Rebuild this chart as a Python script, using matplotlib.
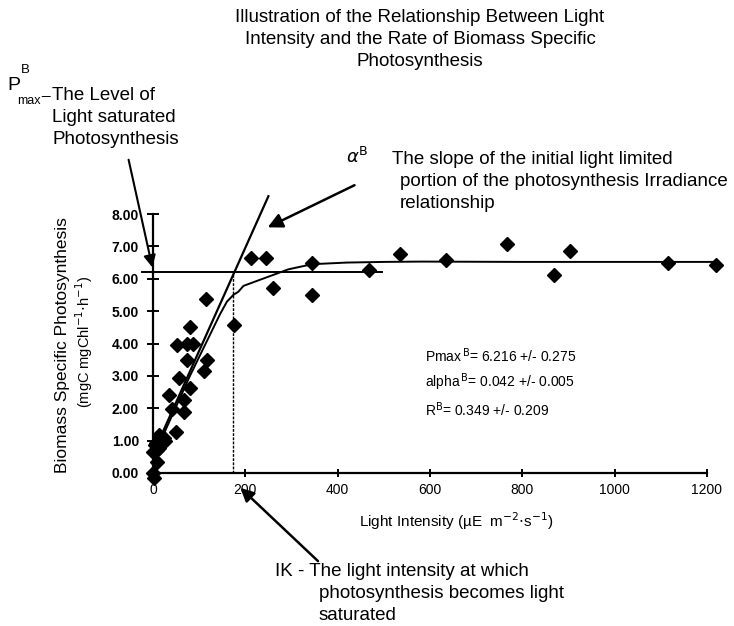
import matplotlib
matplotlib.use("Agg")
import matplotlib.pyplot as plt

plt.rcParams['font.family'] = ['Liberation Sans', 'DejaVu Sans']

# ---- data ----
light = [1, 3, 1, 9, 6, 14, 24, 27, 19, 14, 9, 4,
         50, 41, 68, 68, 35, 80, 56, 110, 74, 116, 51, 74, 86, 80, 115, 176,
         212, 244, 259, 344, 344, 468, 535, 634, 767, 869, 903, 1116, 1219]
biomass = [0.0, -0.15, 0.66, 0.35, 0.92, 1.17, 1.07, 0.99, 0.92, 0.76, 0.72, 0.85,
           1.26, 1.98, 1.89, 2.25, 2.41, 2.62, 2.92, 3.15, 3.49, 3.49, 3.94, 4.0, 3.98, 4.52, 5.38, 4.58,
           6.65, 6.65, 5.70, 6.50, 5.50, 6.27, 6.76, 6.59, 7.07, 6.11, 6.86, 6.50, 6.44]

curve_x = [5, 20, 80, 145, 160, 174, 185, 196, 293, 345, 420, 500, 580, 800, 1000, 1219]
curve_y = [0.6, 1.1, 3.0, 4.9, 5.29, 5.5, 5.6, 5.78, 6.29, 6.45, 6.5, 6.52, 6.53, 6.52, 6.52, 6.52]

slope_x = [5, 250]
slope_y = [0.75, 8.55]

pmax = 6.216
pmax_x = [-24, 497]
ik = 173

xticks = [0, 200, 400, 600, 800, 1000, 1200]
yticks = [0, 1, 2, 3, 4, 5, 6, 7, 8]
ytick_labels = ["0.00", "1.00", "2.00", "3.00", "4.00", "5.00", "6.00", "7.00", "8.00"]

title_lines = ["Illustration of the Relationship Between Light",
               "Intensity and the Rate of Biomass Specific",
               "Photosynthesis"]
pmax_lines = ["The Level of", "Light saturated", "Photosynthesis"]
alpha_lines = ["The slope of the initial light limited",
               "portion of the photosynthesis Irradiance",
               "relationship"]
ik_lines = ["IK - The light intensity at which",
            "photosynthesis becomes light",
            "saturated"]

W, H = 734, 626
fig = plt.figure(figsize=(W / 100, H / 100), dpi=100)
ax = fig.add_axes([153 / W, 1 - 473 / H, (707 - 153) / W, (473 - 214) / H])
ax.set_xlim(0, 1200)
ax.set_ylim(0, 8)

for s in ['top', 'right']:
    ax.spines[s].set_visible(False)
for s in ['left', 'bottom']:
    ax.spines[s].set_linewidth(1.6)

ax.set_xticks(xticks)
ax.set_xticklabels([str(v) for v in xticks], fontsize=10)
ax.set_yticks(yticks)
ax.set_yticklabels(ytick_labels, fontsize=10, fontweight='bold')
ax.tick_params(axis='y', direction='inout', length=8, width=1.4, pad=6)
ax.tick_params(axis='x', direction='inout', length=6, width=1.4, pad=4)

ax.plot(light, biomass, linestyle='none', marker='D', markersize=7, color='black', clip_on=False, zorder=5)
ax.plot(curve_x, curve_y, color='black', lw=1.4, clip_on=False)
ax.plot(slope_x, slope_y, color='black', lw=1.6, clip_on=False)
ax.plot(pmax_x, [pmax, pmax], color='black', lw=1.4, clip_on=False)
ax.plot([ik, ik], [0, pmax], color='black', lw=1.0, linestyle=(0, (2, 1)), clip_on=False)


def T(x, y, s, **kw):
    """text placed at reference pixel position (x from left, y from top)"""
    return fig.text(x / W, 1 - y / H, s, **kw)


def fp(x, y):
    return (x, H - y)


# axis labels
T(456, 521, "Light Intensity (\u00b5E  m$^{-2}$$\\cdot$s$^{-1}$)", fontsize=11, ha='center', va='center')
T(63, 345, "Biomass Specific Photosynthesis", rotation=90, ha='center', va='center', fontsize=12.5)
T(84, 342, "(mgC mgChl$^{-1}$$\\cdot$h$^{-1}$)", rotation=90, ha='center', va='center', fontsize=10.5)

# title
for i, line in enumerate(title_lines):
    T(420, 18 + 22 * i, line, ha='center', va='center', fontsize=13.5)

# Pmax annotation
T(7, 86, "P", fontsize=14, ha='left', va='center')
T(21, 70, "B", fontsize=9.5, ha='left', va='center')
T(17, 101, "max", fontsize=9, ha='left', va='center')
T(41, 90, "_", fontsize=11, ha='left', va='center')
for i, line in enumerate(pmax_lines):
    T(52, 96 + 22 * i, line, fontsize=13.5, ha='left', va='center')
ax.annotate("", xy=(0, pmax + 0.05), xycoords='data', xytext=fp(128, 157), textcoords='figure pixels',
            arrowprops=dict(arrowstyle='-|>', color='black', lw=1.5, mutation_scale=18), annotation_clip=False)

# alpha annotation
T(346, 157, "$\\alpha^{\\mathrm{B}}$", fontsize=13, ha='left', va='center')
for i, line in enumerate(alpha_lines):
    T(392 if i == 0 else 400, 160 + 22 * i, line, fontsize=13.5, ha='left', va='center')
ax.annotate("", xy=(243, 7.55), xycoords='data', xytext=fp(357, 184), textcoords='figure pixels',
            arrowprops=dict(arrowstyle='-|>', color='black', lw=1.8, mutation_scale=22), annotation_clip=False)

# stats
T(425, 356, "Pmax$^{\\,\\mathrm{B}}$= 6.216 +/- 0.275", fontsize=10, ha='left', va='center')
T(425, 382, "alpha$^{\\,\\mathrm{B}}$= 0.042 +/- 0.005", fontsize=10, ha='left', va='center')
T(425, 410, "R$^{\\mathrm{B}}$= 0.349 +/- 0.209", fontsize=10, ha='left', va='center')

# Ik annotation
for i, line in enumerate(ik_lines):
    T(275 if i == 0 else 319, 572 + 22 * i, line, fontsize=13.5, ha='left', va='center')
ax.annotate("", xy=(185, -0.4), xycoords='data', xytext=fp(320, 563), textcoords='figure pixels',
            arrowprops=dict(arrowstyle='-|>', color='black', lw=1.8, mutation_scale=20), annotation_clip=False)

fig.savefig("out.png", dpi=100)
